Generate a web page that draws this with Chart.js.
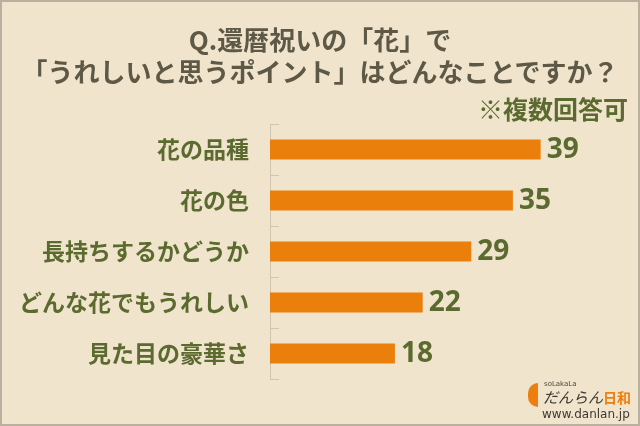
<!DOCTYPE html>
<html>
<head>
<meta charset="utf-8">
<script src="https://cdn.jsdelivr.net/npm/chart.js@4"></script>
<style>
  html, body { margin: 0; padding: 0; }
  body { width: 640px; height: 426px; overflow: hidden; background: #f0e4cc; font-family: "Noto Sans CJK JP", sans-serif; }
  .frame { position: absolute; left: 0; top: 0; width: 636px; height: 422px; border: 2px solid #b9b09f; box-sizing: content-box; }
  .title { position: absolute; left: 0; width: 640px; text-align: center; color: #5e5946; font-weight: 700; font-size: 26px; line-height: 32px; }
  .note { position: absolute; right: 12px; top: 92px; color: #5b6a2e; font-weight: 700; font-size: 25px; line-height: 32px; }
  #wrap { position: absolute; left: 0; top: 0; width: 640px; height: 426px; }
  .logo { position: absolute; left: 526px; top: 378px; width: 110px; height: 46px; }
  .logo .dot { position: absolute; left: 2px; top: 5px; width: 10px; height: 24px; background: #ec7f10; border-radius: 12px 0 0 12px; }
  .logo .s1 { position: absolute; left: 18px; top: 2px; font-family: "DejaVu Sans", sans-serif; font-size: 7px; color: #4d4a40; }
  .logo .s2 { position: absolute; left: 17px; top: 9px; font-size: 15px; font-style: italic; color: #3d3a33; line-height: 20px; }
  .logo .s2 b { color: #ec7f10; font-style: normal; font-weight: 700; font-size: 14px; }
  .logo .s3 { position: absolute; left: 16px; top: 29px; font-family: "DejaVu Sans", sans-serif; font-size: 12px; color: #3d3a33; }
</style>
</head>
<body>
<div class="frame"></div>
<div id="wrap"><canvas id="chart"></canvas></div>
<div class="title" style="top:23px">Q.還暦祝いの「花」で</div>
<div class="title" style="top:55px">「うれしいと思うポイント」はどんなことですか？</div>
<div class="note">※複数回答可</div>
<div class="logo">
  <div class="dot"></div>
  <div class="s1">soLakaLa</div>
  <div class="s2">だんらん<b>日和</b></div>
  <div class="s3">www.danlan.jp</div>
</div>
<script>
const categories = ['花の品種', '花の色', '長持ちするかどうか', 'どんな花でもうれしい', '見た目の豪華さ'];
const counts = [39, 35, 29, 22, 18];

const green = '#5b6a2e';

// value numbers at the end of each bar
const valueLabels = {
  id: 'valueLabels',
  afterDatasetsDraw(chart) {
    const ctx = chart.ctx;
    const meta = chart.getDatasetMeta(0);
    ctx.save();
    ctx.font = 'bold 28px "Noto Sans", "DejaVu Sans", sans-serif';
    ctx.fillStyle = green;
    ctx.textAlign = 'left';
    ctx.textBaseline = 'middle';
    meta.data.forEach((bar, i) => {
      ctx.fillText(String(counts[i]), bar.x + 6, bar.y + 1);
    });
    ctx.restore();
  }
};

// short tick marks on the inside of the category axis
const innerTicks = {
  id: 'innerTicks',
  afterDraw(chart) {
    const y = chart.scales.y;
    const ctx = chart.ctx;
    const left = chart.chartArea.left;
    ctx.save();
    ctx.strokeStyle = '#cfc6b2';
    ctx.lineWidth = 1;
    ctx.beginPath();
    for (let i = 0; i <= categories.length; i++) {
      const py = Math.round(y.getPixelForValue(i - 0.5)) + 0.5;
      ctx.moveTo(left, py);
      ctx.lineTo(left + 9, py);
    }
    ctx.stroke();
    ctx.restore();
  }
};

new Chart(document.getElementById('chart'), {
  type: 'bar',
  data: {
    labels: categories,
    datasets: [{
      data: counts,
      backgroundColor: '#eb7f0b',
      borderWidth: 0,
      barPercentage: 0.39,
      categoryPercentage: 1
    }]
  },
  options: {
    indexAxis: 'y',
    responsive: true,
    maintainAspectRatio: false,
    animation: false,
    layout: { padding: { left: 0, top: 124, right: 23, bottom: 47 } },
    plugins: {
      legend: { display: false },
      tooltip: { enabled: false }
    },
    scales: {
      x: {
        display: false,
        min: 0,
        max: 50
      },
      y: {
        afterFit(scale) { scale.width = 270; },
        border: { display: true, color: '#cfc6b2', width: 1 },
        grid: { display: false },
        ticks: {
          color: green,
          padding: 13,
          font: { family: '"Noto Sans CJK JP", sans-serif', size: 23, weight: 'bold' }
        }
      }
    }
  },
  plugins: [valueLabels, innerTicks]
});
</script>
</body>
</html>
